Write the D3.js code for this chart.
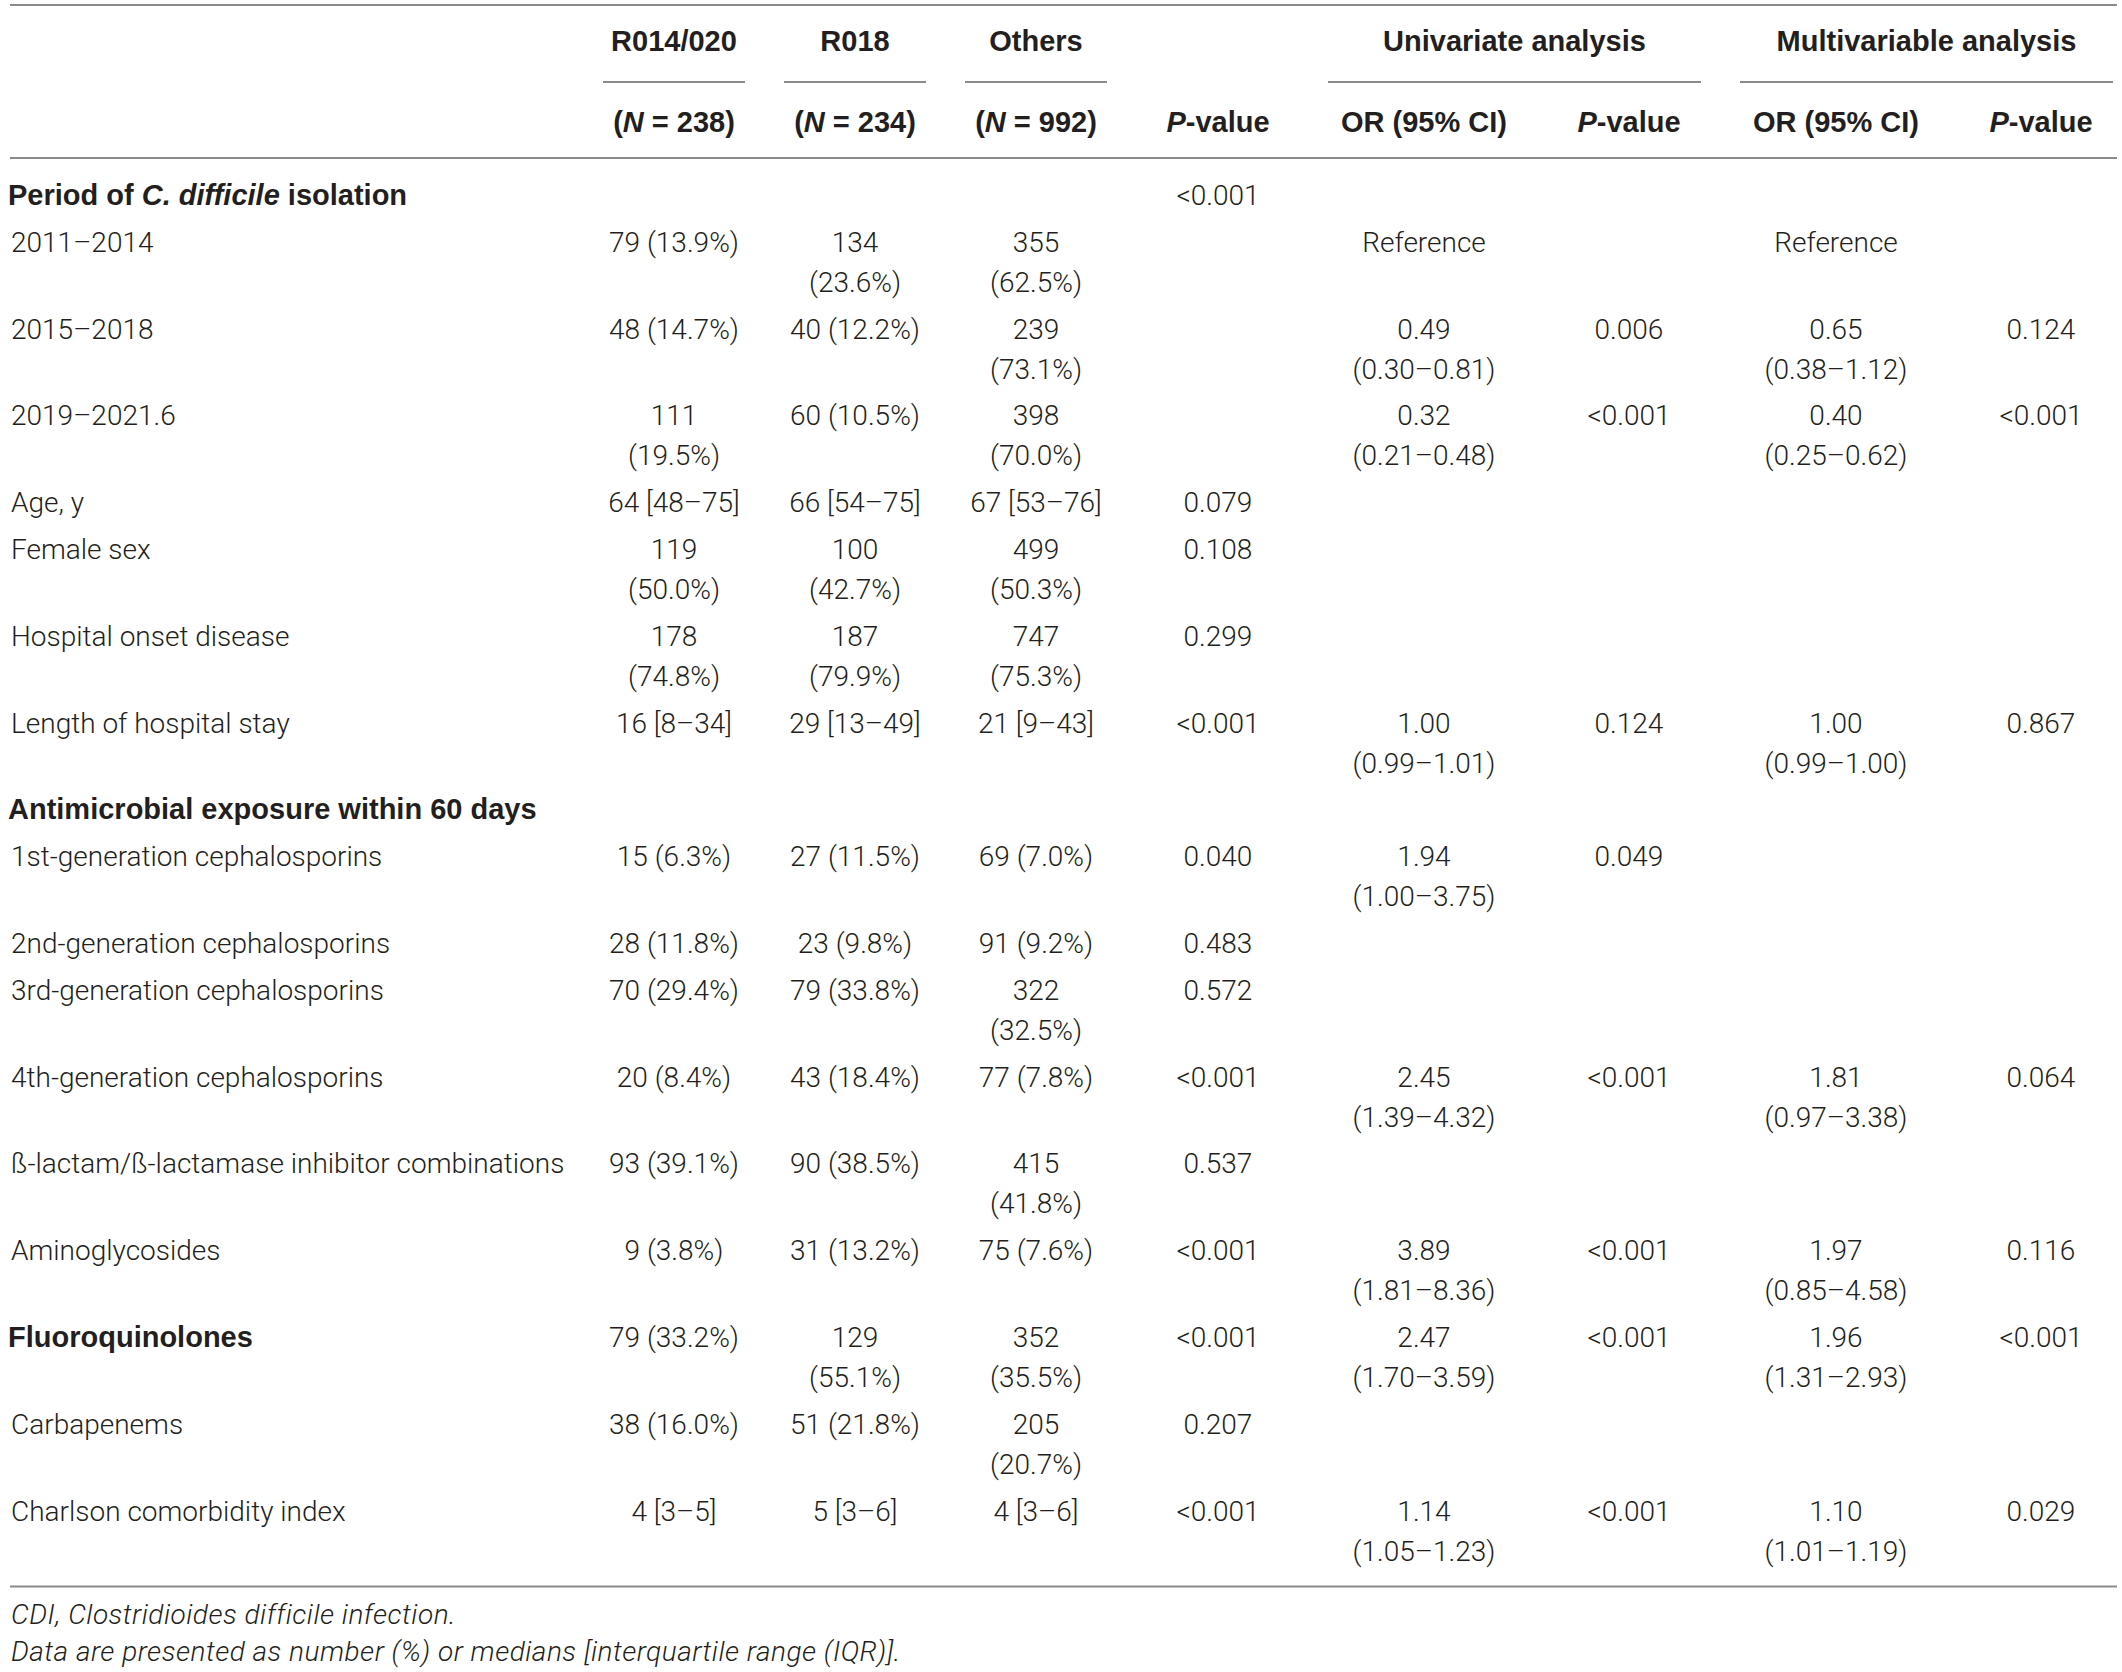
<!DOCTYPE html>
<html>
<head>
<meta charset="utf-8">
<script src="https://cdn.jsdelivr.net/npm/d3@7"></script>
<style>
  body { margin: 0; background: #fff; }
  svg text { font-family: Roboto, "Liberation Sans", sans-serif; fill: #231f20; }
  svg text.bold { font-family: "Liberation Sans", Arial, sans-serif; font-weight: 700; font-size: 29px; }
</style>
</head>
<body>
<svg id="table"></svg>
<script>
// ---- table content ----
const columns = ["r014", "r018", "others", "p_overall", "uni_or", "uni_p", "multi_or", "multi_p"]

const group_headers = ["R014/020", "R018", "Others"]
const n_headers = ["(*N* = 238)", "(*N* = 234)", "(*N* = 992)"]
const analysis_headers = ["Univariate analysis", "Multivariable analysis"]
const stat_headers = ["*P*-value", "OR (95% CI)", "*P*-value", "OR (95% CI)", "*P*-value"]

const labels = [
  "Period of *C. difficile* isolation",
  "2011–2014",
  "2015–2018",
  "2019–2021.6",
  "Age, y",
  "Female sex",
  "Hospital onset disease",
  "Length of hospital stay",
  "Antimicrobial exposure within 60 days",
  "1st-generation cephalosporins",
  "2nd-generation cephalosporins",
  "3rd-generation cephalosporins",
  "4th-generation cephalosporins",
  "ß-lactam/ß-lactamase inhibitor combinations",
  "Aminoglycosides",
  "Fluoroquinolones",
  "Carbapenems",
  "Charlson comorbidity index",
]
const bold_labels = ["Period of *C. difficile* isolation", "Antimicrobial exposure within 60 days", "Fluoroquinolones"]

const r014 = ["", "79 (13.9%)", "48 (14.7%)", "111 (19.5%)", "64 [48–75]", "119 (50.0%)", "178 (74.8%)", "16 [8–34]",
  "", "15 (6.3%)", "28 (11.8%)", "70 (29.4%)", "20 (8.4%)", "93 (39.1%)", "9 (3.8%)", "79 (33.2%)", "38 (16.0%)", "4 [3–5]"]
const r018 = ["", "134 (23.6%)", "40 (12.2%)", "60 (10.5%)", "66 [54–75]", "100 (42.7%)", "187 (79.9%)", "29 [13–49]",
  "", "27 (11.5%)", "23 (9.8%)", "79 (33.8%)", "43 (18.4%)", "90 (38.5%)", "31 (13.2%)", "129 (55.1%)", "51 (21.8%)", "5 [3–6]"]
const others = ["", "355 (62.5%)", "239 (73.1%)", "398 (70.0%)", "67 [53–76]", "499 (50.3%)", "747 (75.3%)", "21 [9–43]",
  "", "69 (7.0%)", "91 (9.2%)", "322 (32.5%)", "77 (7.8%)", "415 (41.8%)", "75 (7.6%)", "352 (35.5%)", "205 (20.7%)", "4 [3–6]"]
const p_overall = ["<0.001", "", "", "", "0.079", "0.108", "0.299", "<0.001",
  "", "0.040", "0.483", "0.572", "<0.001", "0.537", "<0.001", "<0.001", "0.207", "<0.001"]
const uni_or = ["", "Reference", "0.49 (0.30–0.81)", "0.32 (0.21–0.48)", "", "", "", "1.00 (0.99–1.01)",
  "", "1.94 (1.00–3.75)", "", "", "2.45 (1.39–4.32)", "", "3.89 (1.81–8.36)", "2.47 (1.70–3.59)", "", "1.14 (1.05–1.23)"]
const uni_p = ["", "", "0.006", "<0.001", "", "", "", "0.124",
  "", "0.049", "", "", "<0.001", "", "<0.001", "<0.001", "", "<0.001"]
const multi_or = ["", "Reference", "0.65 (0.38–1.12)", "0.40 (0.25–0.62)", "", "", "", "1.00 (0.99–1.00)",
  "", "", "", "", "1.81 (0.97–3.38)", "", "1.97 (0.85–4.58)", "1.96 (1.31–2.93)", "", "1.10 (1.01–1.19)"]
const multi_p = ["", "", "0.124", "<0.001", "", "", "", "0.867",
  "", "", "", "", "0.064", "", "0.116", "<0.001", "", "0.029"]

const footnotes = [
  "CDI, Clostridioides difficile infection.",
  "Data are presented as number (%) or medians [interquartile range (IQR)].",
]

// ---- layout ----
const width = 2122
const height = 1672
const font_size = 28
const line_step = 40
const row_pad = 6.8
const label_x = 11
const bold_label_x = 8
const rule_left = 10
const rule_right = 2117
const rule_color = "#8a8a8a"

const x = d3.scaleOrdinal()
  .domain(columns)
  .range([674, 855, 1036, 1218, 1424, 1629, 1836, 2041])

// how wide a cell may get before it breaks at its first space
const wrap_width = {r014: 142, r018: 142, others: 142, p_overall: 1e9, uni_or: 185, uni_p: 1e9, multi_or: 185, multi_p: 1e9}
const values = {r014, r018, others, p_overall, uni_or, uni_p, multi_or, multi_p}

const svg = d3.select("#table")
  .attr("width", width)
  .attr("height", height)
  .attr("viewBox", [0, 0, width, height])

// writes "a *b* c" with the starred part in italics
function rich(sel, str){
  str.split("*").forEach((part, i) => {
    if (part === "") return
    sel.append("tspan").attr("font-style", i % 2 ? "italic" : null).text(part)
  })
}

function rule(y, x1 = rule_left, x2 = rule_right){
  svg.append("line")
    .attr("x1", x1).attr("x2", x2)
    .attr("y1", y).attr("y2", y)
    .attr("stroke", rule_color)
    .attr("stroke-width", 2)
}

// ---- header ----
const head = svg.append("g").attr("font-size", font_size).attr("text-anchor", "middle")

rule(5)

group_headers.forEach((h, i) => {
  const cx = x(columns[i])
  head.append("text").attr("class", "bold").attr("x", cx).attr("y", 51).text(h)
  rule(82, cx - 71, cx + 71)
})

const spans = [["uni_or", "uni_p"], ["multi_or", "multi_p"]]
analysis_headers.forEach((h, i) => {
  const x1 = x(spans[i][0]) - 96
  const x2 = Math.min(x(spans[i][1]) + 72, rule_right)
  head.append("text").attr("class", "bold").attr("x", (x1 + x2) / 2).attr("y", 51).text(h)
  rule(82, x1, x2)
})

n_headers.forEach((h, i) => {
  head.append("text").attr("class", "bold").attr("x", x(columns[i])).attr("y", 132).call(rich, h)
})
stat_headers.forEach((h, i) => {
  head.append("text").attr("class", "bold").attr("x", x(columns[i + 3])).attr("y", 132).call(rich, h)
})

rule(158)

// ---- body ----
const body = svg.append("g").attr("font-size", font_size).attr("font-weight", 300)

// first pass: split each cell into lines
const measure = body.append("text").attr("visibility", "hidden")
function split_cell(str, max){
  if (str === "") return []
  measure.text(str)
  if (measure.node().getComputedTextLength() <= max) return [str]
  const k = str.indexOf(" ")
  return [str.slice(0, k), str.slice(k + 1)]
}

const rows = labels.map((label, i) => {
  const cells = columns.map(c => ({col: c, lines: split_cell(values[c][i], wrap_width[c])}))
  const n = Math.max(1, ...cells.map(d => d.lines.length))
  return {label, cells, n, bold: bold_labels.includes(label)}
})
measure.remove()

let baseline = 205
rows.forEach(r => { r.y = baseline; baseline += row_pad + line_step * r.n })
const last = rows[rows.length - 1]
const bottom_rule = last.y + (last.n - 1) * line_step + 26

const row_g = body.selectAll("g.row")
  .data(rows)
  .join("g")
  .attr("class", "row")
  .attr("transform", d => `translate(0,${d.y})`)

row_g.append("text")
  .attr("class", d => d.bold ? "bold" : null)
  .attr("x", d => d.bold ? bold_label_x : label_x)
  .each(function(d){ rich(d3.select(this), d.label) })

row_g.selectAll("text.cell")
  .data(d => d.cells.filter(c => c.lines.length))
  .join("text")
  .attr("class", "cell")
  .attr("text-anchor", "middle")
  .attr("x", d => x(d.col))
  .selectAll("tspan")
  .data(d => d.lines)
  .join("tspan")
  .attr("x", function(){ return this.parentNode.getAttribute("x") })
  .attr("y", (d, i) => i * line_step)
  .text(d => d)

rule(bottom_rule)

// ---- notes ----
svg.append("g")
  .attr("font-size", 28)
  .attr("font-weight", 300)
  .attr("font-style", "italic")
  .attr("letter-spacing", 0.5)
  .selectAll("text")
  .data(footnotes)
  .join("text")
  .attr("x", label_x)
  .attr("y", (d, i) => bottom_rule + 37 + i * 37)
  .text(d => d)
</script>
</body>
</html>
